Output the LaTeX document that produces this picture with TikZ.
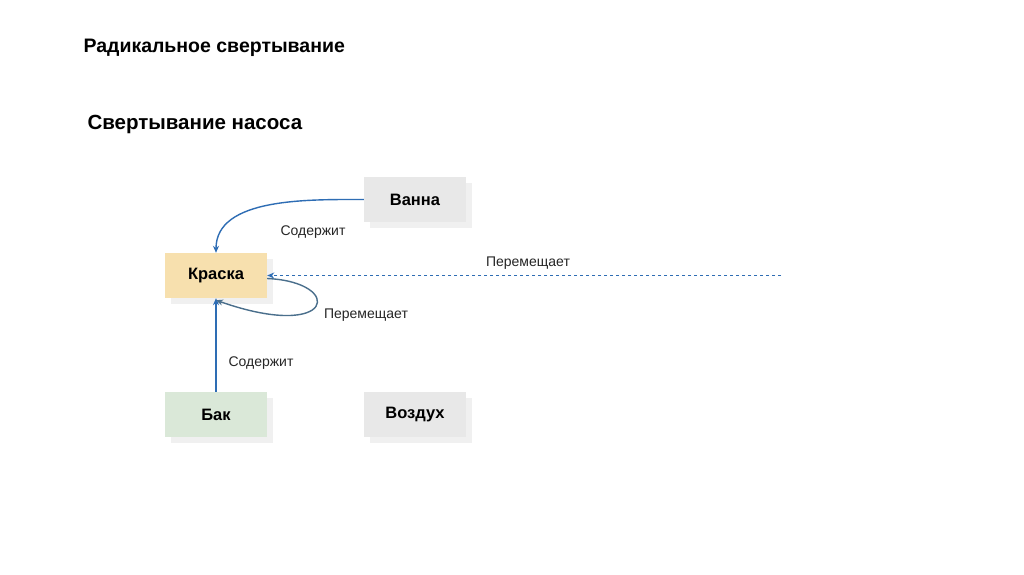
\documentclass[tikz,border=0pt]{standalone}
\usepackage{fontspec}
\setmainfont{Liberation Sans}
\usetikzlibrary{arrows.meta}
\definecolor{arr}{HTML}{2E6DB4}
\definecolor{loopc}{HTML}{4A6F8C}
\definecolor{kr}{HTML}{F7E0AE}
\definecolor{bk}{HTML}{DAE8D8}
\definecolor{gr}{HTML}{E8E8E8}
\begin{document}
\begin{tikzpicture}[x=1pt,y=-1pt,
  box/.style={minimum width=102pt,minimum height=45pt,inner sep=0pt,font=\fontsize{16.5}{16.5}\selectfont\bfseries},
  shad/.style={fill=black!6},
  lbl/.style={font=\fontsize{14}{14}\selectfont,text=black!85},
  con/.style={draw=arr,line width=1.4pt,-{Stealth[length=7pt,width=6pt]}}]
\useasboundingbox[fill=white] (0,0) rectangle (1024,574);
\node[anchor=west,font=\fontsize{19.5}{19.5}\selectfont\bfseries] (t1) at (80,48) {Радикальное свертывание};
\node[anchor=west,font=\fontsize{20.5}{20.5}\selectfont\bfseries] (t2) at (84,124) {Свертывание насоса};
\foreach \x/\y in {364/177,165/253,165/392,364/392}
  \fill[shad] (\x+6,\y+6) rectangle (\x+108,\y+51);
\node[box,fill=gr] (vanna) at (415,199.5) {Ванна};
\node[box,fill=kr] (kraska) at (216,275.5) {Краска};
\node[box,fill=bk] (bak) at (216,414.5) {Бак};
\node[box,fill=gr] (vozd) at (415,414.5) {Воздух};
\coordinate (far) at (781,275.5);
\draw[con,dashed] (far) -- (kraska.east);
\node[lbl] at (528,263) {Перемещает};
\draw[con] (vanna.west) to[out=180,in=90,looseness=0.9] (kraska.north);
\node[lbl] at (313,232) {Содержит};
\draw[con,draw=loopc] (kraska.east) ++(0,3) .. controls (345,282) and (335,342) .. ([yshift=-2pt]kraska.south);
\node[lbl] at (366,315) {Перемещает};
\draw[con] (bak.north) -- (kraska.south);
\node[lbl] at (261,363) {Содержит};
\end{tikzpicture}
\end{document}
